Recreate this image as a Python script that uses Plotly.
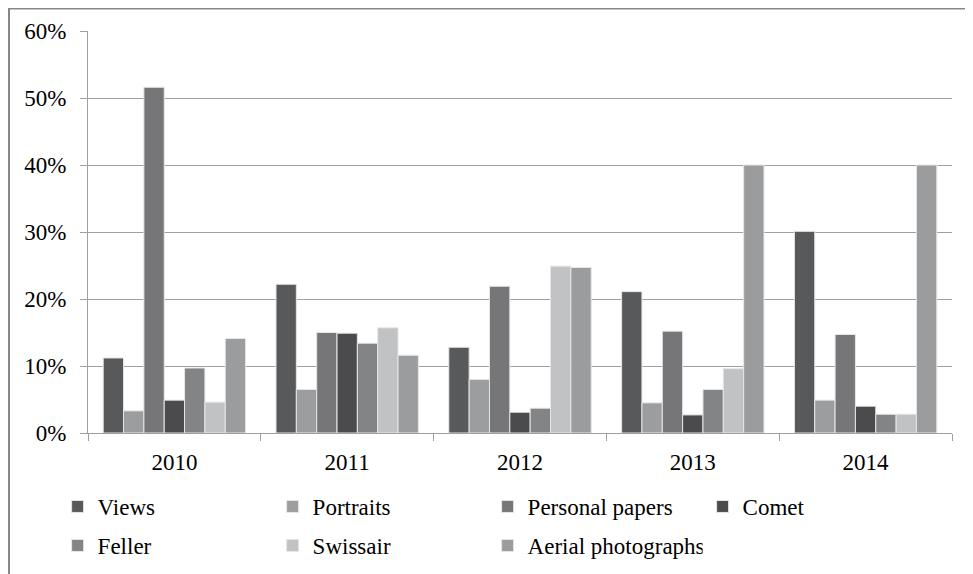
import plotly.graph_objects as go

years = ["2010", "2011", "2012", "2013", "2014"]

series_names = ["Views", "Portraits", "Personal papers", "Comet", "Feller", "Swissair", "Aerial photographs"]

views = [0.112, 0.222, 0.128, 0.211, 0.301]
portraits = [0.033, 0.065, 0.080, 0.045, 0.049]
personal_papers = [0.516, 0.150, 0.219, 0.152, 0.147]
comet = [0.049, 0.149, 0.031, 0.027, 0.040]
feller = [0.097, 0.134, 0.037, 0.065, 0.028]
swissair = [0.046, 0.157, 0.249, 0.096, 0.028]
aerial = [0.141, 0.116, 0.247, 0.400, 0.400]

colors = ["#58595b", "#9c9d9f", "#767678", "#4b4b4d", "#838486", "#c1c2c4", "#9b9c9e"]

FONT = "Liberation Serif, Times New Roman, serif"
FS = 23

# the page body adds 8px on the left and top, margins below allow for it
ML, MR, MT, MB = 80, 29, 23, 149
PW, PH = 973 - ML - MR, 574 - MT - MB

fig = go.Figure()
all_vals = [views, portraits, personal_papers, comet, feller, swissair, aerial]
for i, (name, vals, col) in enumerate(zip(series_names, all_vals, colors)):
    fig.add_trace(go.Bar(
        x=years, y=vals, name=name,
        marker=dict(color=col, line=dict(color="#e6e6e6", width=1)),
        legend="legend" if i < 4 else "legend2",
    ))

legend_style = dict(
    orientation="h",
    xref="container", yref="container",
    xanchor="left", yanchor="top",
    entrywidth=170, entrywidthmode="pixels",
    font=dict(family=FONT, size=FS, color="black"),
    bgcolor="rgba(0,0,0,0)",
)

fig.update_layout(
    width=973, height=574,
    barmode="group",
    bargap=0.176, bargroupgap=0,
    plot_bgcolor="white", paper_bgcolor="white",
    margin=dict(l=ML, r=MR, t=MT, b=MB, autoexpand=False),
    font=dict(family=FONT, size=FS, color="black"),
    showlegend=True,
    legend=dict(legend_style, x=0.051, y=0.169),
    legend2=dict(legend_style, x=0.051, y=0.101),
    shapes=[dict(
        type="rect", xref="paper", yref="paper",
        x0=(1 - ML) / PW, x1=1.1, y0=-0.5, y1=1 + (MT - 0.5) / PH,
        line=dict(color="#878787", width=2), fillcolor="rgba(0,0,0,0)",
    )],
)

fig.update_xaxes(
    type="category", automargin=False,
    showline=True, linecolor="#a0a0a0", linewidth=1,
    ticks="outside", tickson="boundaries", ticklen=7, tickcolor="#a0a0a0",
    ticklabelstandoff=8,
    showgrid=False,
    tickfont=dict(family=FONT, size=FS, color="black"),
)
fig.update_yaxes(
    range=[0, 0.6], dtick=0.1, tickformat=".0%", automargin=False,
    showline=True, linecolor="#a0a0a0", linewidth=1,
    ticks="outside", ticklen=7, tickcolor="#a0a0a0",
    ticklabelstandoff=9,
    showgrid=True, gridcolor="#a0a0a0", gridwidth=1,
    zeroline=False,
    tickfont=dict(family=FONT, size=FS, color="black"),
)

fig.write_html("out.html")
